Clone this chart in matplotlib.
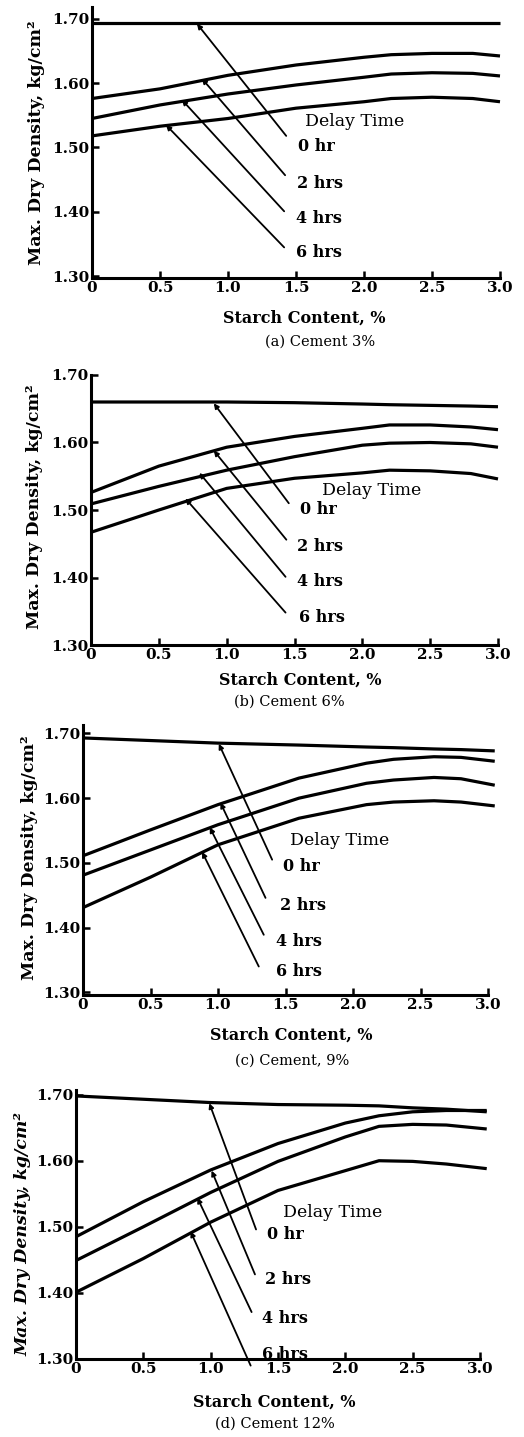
import matplotlib
matplotlib.use("Agg")
import matplotlib.pyplot as plt

# ---------------- data ----------------
delay_labels = ["0 hr", "2 hrs", "4 hrs", "6 hrs"]
x_ticks = [0, 0.5, 1.0, 1.5, 2.0, 2.5, 3.0]
x_tick_labels = ["0", "0.5", "1.0", "1.5", "2.0", "2.5", "3.0"]
y_ticks = [1.30, 1.40, 1.50, 1.60, 1.70]
y_tick_labels = ["1.30", "1.40", "1.50", "1.60", "1.70"]

# (a) Cement 3%
starch_a = [0, 0.5, 1.0, 1.5, 2.0, 2.2, 2.5, 2.8, 3.0]
a_0hr = [1.693, 1.693, 1.693, 1.693, 1.693, 1.693, 1.693, 1.693, 1.693]
a_2hrs = [1.576, 1.591, 1.612, 1.628, 1.640, 1.644, 1.646, 1.646, 1.642]
a_4hrs = [1.545, 1.566, 1.583, 1.597, 1.609, 1.614, 1.616, 1.615, 1.611]
a_6hrs = [1.518, 1.533, 1.545, 1.561, 1.571, 1.576, 1.578, 1.576, 1.571]

# (b) Cement 6%
starch_b = [0, 0.5, 1.0, 1.5, 2.0, 2.2, 2.5, 2.8, 3.0]
b_0hr = [1.660, 1.660, 1.660, 1.659, 1.657, 1.656, 1.655, 1.654, 1.653]
b_2hrs = [1.526, 1.565, 1.593, 1.609, 1.621, 1.626, 1.626, 1.623, 1.619]
b_4hrs = [1.509, 1.535, 1.559, 1.579, 1.596, 1.599, 1.600, 1.598, 1.593]
b_6hrs = [1.467, 1.500, 1.532, 1.547, 1.555, 1.559, 1.558, 1.554, 1.546]

# (c) Cement 9%
starch_c = [0, 0.5, 1.0, 1.6, 2.1, 2.3, 2.6, 2.8, 3.05]
c_0hr = [1.693, 1.689, 1.685, 1.682, 1.679, 1.678, 1.676, 1.675, 1.673]
c_2hrs = [1.511, 1.551, 1.590, 1.631, 1.654, 1.660, 1.664, 1.663, 1.657]
c_4hrs = [1.481, 1.520, 1.559, 1.600, 1.623, 1.628, 1.632, 1.630, 1.620]
c_6hrs = [1.431, 1.478, 1.528, 1.569, 1.590, 1.594, 1.596, 1.594, 1.588]

# (d) Cement 12%
starch_d = [0, 0.5, 1.0, 1.5, 2.0, 2.25, 2.5, 2.75, 3.05]
d_0hr = [1.698, 1.693, 1.688, 1.685, 1.684, 1.683, 1.680, 1.678, 1.674]
d_2hrs = [1.485, 1.538, 1.586, 1.626, 1.657, 1.668, 1.674, 1.676, 1.676]
d_4hrs = [1.449, 1.500, 1.552, 1.599, 1.636, 1.652, 1.655, 1.654, 1.648]
d_6hrs = [1.401, 1.452, 1.507, 1.555, 1.585, 1.600, 1.599, 1.595, 1.588]

captions = ["(a) Cement 3%", "(b) Cement 6%", "(c) Cement, 9%", "(d) Cement 12%"]

# ---------------- layout ----------------
W, H = 524, 1437
fig = plt.figure(figsize=(W / 100, H / 100), dpi=100)
SERIF = ["DejaVu Serif", "Liberation Serif"]
plt.rcParams["font.family"] = SERIF

panels = [
    dict(x=starch_a, ys=[a_0hr, a_2hrs, a_4hrs, a_6hrs],
         box=(92, 500, 7, 278), ylim=(1.2975, 1.718),
         leaders=[((0.772, 1.692), (1.428, 1.518)),
                  ((0.808, 1.607), (1.420, 1.457)),
                  ((0.661, 1.574), (1.413, 1.401)),
                  ((0.544, 1.535), (1.413, 1.345))],
         labels=[(1.518, 1.5015), (1.506, 1.4445), (1.499, 1.390), (1.499, 1.337)],
         delay=(1.567, 1.540),
         ylab=(37, 143), xlab=(304, 318), cap=(320, 342), ylab_style="normal"),
    dict(x=starch_b, ys=[b_0hr, b_2hrs, b_4hrs, b_6hrs],
         box=(91, 498, 375, 645), ylim=(1.30, 1.70),
         leaders=[((0.905, 1.658), (1.458, 1.510)),
                  ((0.905, 1.588), (1.440, 1.456)),
                  ((0.799, 1.555), (1.434, 1.401)),
                  ((0.696, 1.517), (1.434, 1.348))],
         labels=[(1.544, 1.500), (1.520, 1.446), (1.520, 1.394), (1.532, 1.340)],
         delay=(1.704, 1.529),
         ylab=(35, 507), xlab=(300, 680), cap=(289, 702), ylab_style="normal"),
    dict(x=starch_c, ys=[c_0hr, c_2hrs, c_4hrs, c_6hrs],
         box=(83, 488, 725, 995), ylim=(1.296, 1.713),
         leaders=[((1.006, 1.684), (1.401, 1.505)),
                  ((1.018, 1.593), (1.352, 1.446)),
                  ((0.939, 1.555), (1.339, 1.389)),
                  ((0.882, 1.517), (1.302, 1.340))],
         labels=[(1.483, 1.495), (1.458, 1.435), (1.433, 1.378), (1.433, 1.332)],
         delay=(1.537, 1.535),
         ylab=(30, 858), xlab=(291, 1035), cap=(292, 1061), ylab_style="normal"),
    dict(x=starch_d, ys=[d_0hr, d_2hrs, d_4hrs, d_6hrs],
         box=(76, 480, 1090, 1359), ylim=(1.30, 1.707),
         leaders=[((0.990, 1.687), (1.337, 1.496)),
                  ((1.007, 1.585), (1.329, 1.428)),
                  ((0.901, 1.544), (1.304, 1.371)),
                  ((0.851, 1.493), (1.297, 1.290))],
         labels=[(1.416, 1.489), (1.403, 1.421), (1.379, 1.361), (1.379, 1.307)],
         delay=(1.540, 1.522),
         ylab=(23, 1234), xlab=(274, 1402), cap=(275, 1424), ylab_style="italic"),
]

FS_TICK = 11
FS_LAB = 11.5
FS_YLAB = 12.5
FS_DELAY = 12.5
FS_HR = 11.5
FS_CAP = 10.5

for i, p in enumerate(panels):
    l, r, t, b = p["box"]
    ax = fig.add_axes([l / W, 1 - b / H, (r - l) / W, (b - t) / H])
    for y in p["ys"]:
        ax.plot(p["x"], y, color="black", lw=2.3, solid_capstyle="butt",
                solid_joinstyle="round", clip_on=False)
    for (xy, tail) in p["leaders"]:
        ax.annotate("", xy=xy, xytext=tail,
                    arrowprops=dict(arrowstyle="-|>", color="black", lw=1.3,
                                    mutation_scale=7, shrinkA=0, shrinkB=0))
    for (pos, lab) in zip(p["labels"], delay_labels):
        ax.text(pos[0], pos[1], lab, fontsize=FS_HR, ha="left", va="center",
                fontweight="bold")
    ax.text(p["delay"][0], p["delay"][1], "Delay Time", fontsize=FS_DELAY,
            ha="left", va="center")
    ax.set_xlim(0, 3.0)
    ax.set_ylim(*p["ylim"])
    ax.set_xticks(x_ticks)
    ax.set_xticklabels(x_tick_labels, fontsize=FS_TICK, fontweight="bold")
    ax.set_yticks(y_ticks)
    ax.set_yticklabels(y_tick_labels, fontsize=FS_TICK, fontweight="bold")
    ax.tick_params(direction="in", length=5, width=1.8, pad=2)
    for s in ("top", "right"):
        ax.spines[s].set_visible(False)
    for s in ("left", "bottom"):
        ax.spines[s].set_linewidth(2.2)
    ax.patch.set_alpha(0)

    fig.text(p["ylab"][0] / W, 1 - p["ylab"][1] / H, "Max. Dry Density, kg/cm²",
             rotation=90, ha="center", va="center", fontsize=FS_YLAB,
             fontweight="bold", style=p["ylab_style"])
    fig.text(p["xlab"][0] / W, 1 - p["xlab"][1] / H, "Starch Content, %",
             ha="center", va="center", fontsize=FS_LAB, fontweight="bold")
    fig.text(p["cap"][0] / W, 1 - p["cap"][1] / H, captions[i],
             ha="center", va="center", fontsize=FS_CAP)

fig.savefig("out.png", dpi=100, facecolor="white")
